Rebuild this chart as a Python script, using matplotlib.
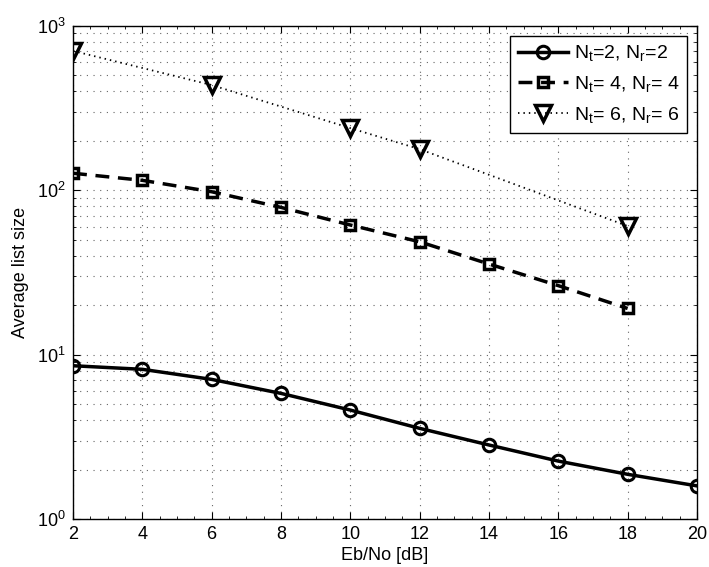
import matplotlib
matplotlib.use("Agg")
import matplotlib.pyplot as plt
from matplotlib.ticker import LogLocator, MultipleLocator, NullFormatter

plt.rcParams['font.family'] = ['Liberation Sans', 'DejaVu Sans']
plt.rcParams['mathtext.fontset'] = 'custom'
plt.rcParams['mathtext.rm'] = 'Liberation Sans'
plt.rcParams['mathtext.it'] = 'Liberation Sans:italic'
plt.rcParams['mathtext.default'] = 'regular'

snr_22 = [2, 4, 6, 8, 10, 12, 14, 16, 18, 20]
list_22 = [8.56, 8.14, 7.07, 5.81, 4.60, 3.56, 2.82, 2.25, 1.87, 1.59]

snr_44 = [2, 4, 6, 8, 10, 12, 14, 16, 18]
list_44 = [127, 115, 98, 78.7, 61.5, 48.6, 35.6, 26.3, 19.1]

snr_66 = [2, 6, 10, 12, 18]
list_66 = [705, 437, 239, 178, 60.6]

labels = [r'N$_t$=2, N$_r$=2', r'N$_t$= 4, N$_r$= 4', r'N$_t$= 6, N$_r$= 6']

fig = plt.figure(figsize=(7.09, 5.67), dpi=100)
ax = fig.add_axes([0.103, 0.0847, 0.880, 0.8695])

ax.semilogy(snr_22, list_22, '-', color='black', lw=2.5, marker='o', ms=9,
            mfc='none', mew=2.2, label=labels[0])
ax.semilogy(snr_44, list_44, '--', color='black', lw=2.5, marker='s', ms=7,
            mfc='none', mew=2.5, dashes=(4, 2.5), label=labels[1])
ax.semilogy(snr_66, list_66, ':', color='black', lw=1.3, marker='v', ms=11,
            mfc='none', mew=2.5, dashes=(0.8, 2.2), label=labels[2])

ax.set_xlim(2, 20)
ax.set_ylim(1, 1000)
ax.set_xticks(range(2, 21, 2))
ax.xaxis.set_minor_locator(MultipleLocator(0.5))
ax.yaxis.set_major_locator(LogLocator(base=10, numticks=10))
ax.yaxis.set_minor_locator(LogLocator(base=10, subs=range(2, 10), numticks=20))
ax.yaxis.set_minor_formatter(NullFormatter())

ax.grid(True, which='major', axis='both', linestyle=(0, (1, 5)), color='#666666', lw=0.8)
ax.grid(True, which='minor', axis='y', linestyle=(0, (1, 5)), color='#666666', lw=0.8)

ax.tick_params(which='both', direction='in', top=True, right=True, labelsize=13)
ax.tick_params(which='major', length=5, width=0.8)
ax.tick_params(axis='x', which='major', pad=5)
ax.tick_params(axis='y', which='major', pad=5)
ax.tick_params(which='minor', length=2.5, width=0.6)
for s in ax.spines.values():
    s.set_linewidth(1.0)

ax.set_xlabel('Eb/No [dB]', fontsize=13, labelpad=3)
ax.set_ylabel('Average list size', fontsize=13, labelpad=6)

leg = ax.legend(loc='upper right', fontsize=14, frameon=True, fancybox=False,
                edgecolor='black', framealpha=1, borderaxespad=0.5,
                handlelength=2.6, handletextpad=0.3, labelspacing=0.55,
                borderpad=0.4)
leg.get_frame().set_linewidth(1.0)

fig.savefig('out.png', dpi=100)
